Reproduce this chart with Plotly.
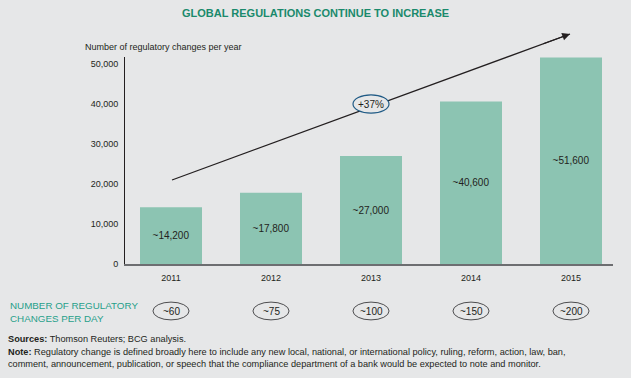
import plotly.graph_objects as go

years = ["2011", "2012", "2013", "2014", "2015"]
changes_per_year = [14200, 17800, 27000, 40600, 51600]
bar_labels = ["~14,200", "~17,800", "~27,000", "~40,600", "~51,600"]
changes_per_day = ["~60", "~75", "~100", "~150", "~200"]
y_ticks = [0, 10000, 20000, 30000, 40000, 50000]
y_tick_labels = ["0", "10,000", "20,000", "30,000", "40,000", "50,000"]
growth_label = "+37%"

FONT = "Liberation Sans, Arial, sans-serif"
BG = "#e6e7e8"
BAR = "#8cc4b2"
TXT = "#231f20"

W, H = 631, 378
L, R, T, B = 125, 18, 57, 114
XR = [-0.46, 4.42]
YR = [0, 51750]
PW, PH = W - L - R, H - T - B

def xp(i):
    return (i - XR[0]) / (XR[1] - XR[0])

def yv(v):
    return (v - YR[0]) / (YR[1] - YR[0])

def px_x(px):
    return (px - L) / PW

def yp(px):
    return (H - B - px) / PH

fig = go.Figure()
fig.add_trace(go.Bar(
    x=years, y=changes_per_year, text=bar_labels,
    textposition="inside", insidetextanchor="middle",
    textfont=dict(family=FONT, size=10, color=TXT),
    marker=dict(color=BAR, line=dict(width=0)),
    hoverinfo="skip",
))

annotations = []
shapes = []

# Trend arrow (line as shape, head as annotation)
x0a, y0a, x1a, y1a = 0.01, 21000, 3.99, 57500
shapes.append(dict(type="line", xref="paper", yref="paper",
                   x0=xp(x0a), y0=yv(y0a), x1=xp(x1a), y1=yv(y1a),
                   line=dict(color="#231f20", width=1.2), layer="above"))
dxp = (xp(x1a) - xp(x0a)) * PW
dyp = (yv(y1a) - yv(y0a)) * PH
ln = (dxp ** 2 + dyp ** 2) ** 0.5
alen = 30
annotations.append(dict(
    x=xp(x1a), y=yv(y1a), xref="paper", yref="paper",
    ax=-alen * dxp / ln, ay=alen * dyp / ln,
    showarrow=True, arrowhead=2, arrowsize=1.3, arrowwidth=1.2, arrowcolor="#231f20", text="",
    standoff=0, startstandoff=0,
))
# +37% label with ellipse (filled, covering the arrow line)
shapes.append(dict(type="circle", xref="x", yref="y", x0=2 - 0.18, x1=2 + 0.18,
                   y0=40000 - 2300, y1=40000 + 2300,
                   line=dict(color="#1f5a85", width=1.2), fillcolor=BG, layer="above"))
annotations.append(dict(x=2, y=40000, xref="x", yref="y", text=growth_label, showarrow=False,
                        xanchor="center", yanchor="middle",
                        font=dict(family=FONT, size=10, color=TXT)))

# per-day row
oy = yp(311)
for i, v in enumerate(changes_per_day):
    shapes.append(dict(type="circle", xref="paper", yref="paper",
                       x0=xp(i) - 0.037, x1=xp(i) + 0.037,
                       y0=oy - 0.043, y1=oy + 0.043,
                       line=dict(color="#4d4d4f", width=1)))
    annotations.append(dict(x=xp(i), y=oy, xref="paper", yref="paper", text=v, showarrow=False,
                            xanchor="center", yanchor="middle",
                            font=dict(family=FONT, size=10, color=TXT)))

annotations += [
    dict(x=px_x(315), y=yp(13), xref="paper", yref="paper", xanchor="center", yanchor="middle",
         text="<b>GLOBAL REGULATIONS CONTINUE TO INCREASE</b>", showarrow=False,
         font=dict(family=FONT, size=11, color="#1a8a6c")),
    dict(x=px_x(83), y=yp(47), xref="paper", yref="paper", xanchor="left", yanchor="middle",
         text="Number of regulatory changes per year", showarrow=False,
         font=dict(family=FONT, size=9, color=TXT)),
    dict(x=px_x(8), y=yp(311.5), xref="paper", yref="paper", xanchor="left", yanchor="middle",
         text="NUMBER OF REGULATORY<br>CHANGES PER DAY", showarrow=False, align="left",
         font=dict(family=FONT, size=9.8, color="#27a08a")),
    dict(x=px_x(6), y=yp(339), xref="paper", yref="paper", xanchor="left", yanchor="middle",
         text="<b>Sources:</b> Thomson Reuters; BCG analysis.", showarrow=False, align="left",
         font=dict(family=FONT, size=9.2, color=TXT)),
    dict(x=px_x(6), y=yp(358), xref="paper", yref="paper", xanchor="left", yanchor="middle",
         text="<b>Note:</b> Regulatory change is defined broadly here to include any new local, national, or international policy, ruling, reform, action, law, ban,<br>comment, announcement, publication, or speech that the compliance department of a bank would be expected to note and monitor.",
         showarrow=False, align="left",
         font=dict(family=FONT, size=9.2, color=TXT)),
]

fig.update_layout(
    width=W, height=H, margin=dict(l=L, r=R, t=T, b=B, pad=0),
    paper_bgcolor=BG, plot_bgcolor=BG, showlegend=False,
    bargap=0.38,
    xaxis=dict(range=XR, showline=True, linecolor="#6d6e71", linewidth=2, ticks="",
               showgrid=False, zeroline=False, tickfont=dict(family=FONT, size=9, color=TXT),
               ticklabelstandoff=4),
    yaxis=dict(range=YR, showline=True, linecolor="#231f20", linewidth=1, ticks="",
               tickvals=y_ticks, ticktext=y_tick_labels, showgrid=False, zeroline=False,
               tickfont=dict(family=FONT, size=9, color=TXT), ticklabelstandoff=4),
    annotations=annotations, shapes=shapes,
)
fig.write_html(
    "out.html",
    config={"displayModeBar": False},
    post_script="document.body.style.margin='0';document.body.style.background='#e6e7e8';document.body.style.overflow='hidden';",
)
